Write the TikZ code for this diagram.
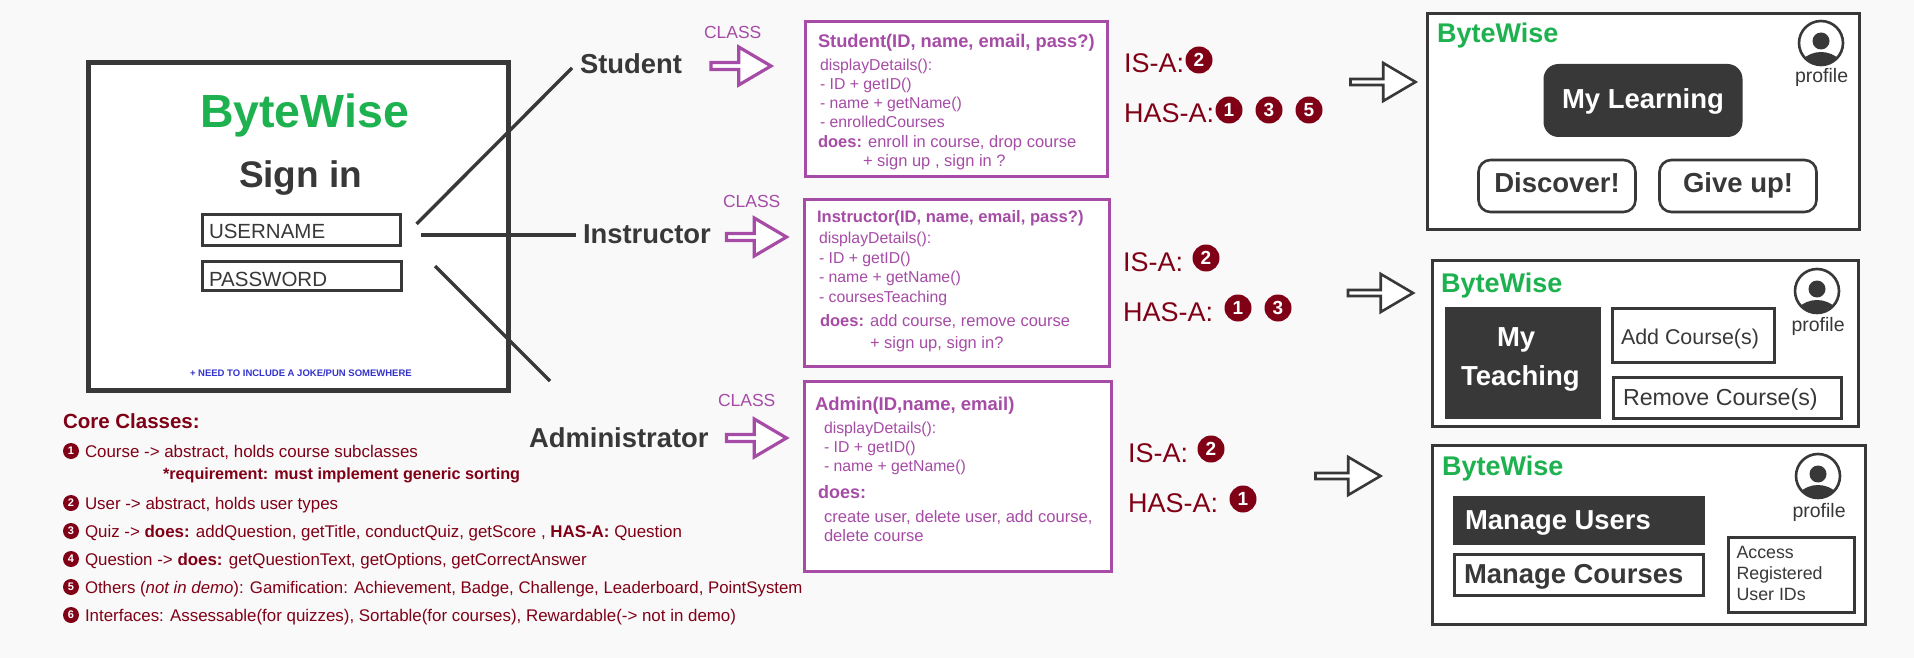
\documentclass[tikz,border=0pt]{standalone}
\usepackage{fontspec}
\setmainfont{Liberation Sans}
\usetikzlibrary{shapes.arrows}

\newcommand{\fs}[1]{\fontsize{#1}{#1}\selectfont}
% profile badge of a screen, at its centre
\newcommand{\profileicon}[2]{
    \begin{scope}[shift={(#1,#2)}]
        \begin{scope}
            \clip (0,0) circle (22);
            \fill[bw_dark] (0,-2) circle (8.5);
            \fill[bw_dark] (0,36) circle (27);
        \end{scope}
        \draw[bw_dark, line width=2.6] (0,0) circle (22);
    \end{scope}
}

\tikzset{
    plain/.style={inner sep=0, outer sep=0, anchor=base west, font=\fs{#1}},
    heavy/.style={plain=#1, font=\fs{#1}\bfseries},
    box/.style={draw=bw_dark, fill=white, line width=#1, inner sep=0, outer sep=0, anchor=north west},
    button/.style={box=2.6, rounded corners=12, minimum width=157, minimum height=52, text height=20, text depth=6, font=\fs{27.5}\bfseries, text=bw_dark},
    classbox/.style={draw=bw_purple, fill=white, line width=3.4, inner sep=0, outer sep=0, anchor=north west},
    darkbox/.style={fill=bw_dark, text=white, inner sep=0, outer sep=0, anchor=north west, font=\fs{27.5}\bfseries},
    wire/.style={draw=bw_dark, line width=3.4},
    blockarrow/.style={single arrow, draw=#1, fill=white, inner sep=0, outer sep=0, anchor=tail,
        minimum width=38, single arrow head extend=7, single arrow tip angle=61},
    classarrow/.style={blockarrow=bw_purple, line width=3.2, minimum height=60},
    screenarrow/.style={blockarrow=bw_dark, line width=2.6, minimum height=65},
    badge/.style={circle, fill=bw_red, text=white, inner sep=0, minimum size=27, font=\fs{19}\bfseries},
    smallbadge/.style={circle, fill=bw_red, text=white, inner sep=0, minimum size=16, font=\fs{11}\bfseries},
}

\begin{document}
\begin{tikzpicture}[x=1pt, y=-1pt]
    \definecolor{bw_bg}{HTML}{F9F9F9}
    \definecolor{bw_dark}{HTML}{383838}
    \definecolor{bw_green}{HTML}{1DB14F}
    \definecolor{bw_purple}{HTML}{A64CA6}
    \definecolor{bw_red}{HTML}{800016}
    \definecolor{bw_blue}{HTML}{3333CC}

    \fill[bw_bg] (0,0) rectangle (1914,658);
    \useasboundingbox (0,0) rectangle (1914,658);

    % sign in page
    \node[box=4.6, minimum width=420, minimum height=328] (signin) at (88.5,62.5) {};
    \node[heavy=46.5, text=bw_green] (signin_logo) at (200,128) {ByteWise};
    \node[heavy=37, text=bw_dark] (signin_title) at (239,187) {Sign in};
    \node[box=3, minimum width=198, minimum height=31] (username) at (202.5,214.5) {};
    \node[box=3, minimum width=199, minimum height=29] (password) at (202.5,261.5) {};
    \node[plain=20.5, text=bw_dark] (username_text) at (209,238) {USERNAME};
    \node[plain=20.5, text=bw_dark] (password_text) at (209,286) {PASSWORD};
    \node[heavy=9.5, text=bw_blue] (signin_note) at (190,376) {+ NEED TO INCLUDE A JOKE/PUN SOMEWHERE};

    % the three users
    \node[heavy=27.4, text=bw_dark] (student) at (580,74) {Student};
    \node[heavy=27.4, text=bw_dark] (instructor) at (583,243) {Instructor};
    \node[heavy=27.4, text=bw_dark] (administrator) at (529,447) {Administrator};
    \coordinate (student_from) at (416.5,224);
    \coordinate (student_to) at (572,68);
    \coordinate (instructor_from) at (421,235);
    \coordinate (instructor_to) at (576,235);
    \coordinate (admin_from) at (435,266);
    \coordinate (admin_to) at (550,381);
    \draw[wire] (student_from) -- (student_to);
    \draw[wire] (instructor_from) -- (instructor_to);
    \draw[wire] (admin_from) -- (admin_to);

    % class arrows
    \node[plain=17.5, text=bw_purple] (class_student) at (704,39) {CLASS};
    \node[plain=17.5, text=bw_purple] (class_instructor) at (723,207) {CLASS};
    \node[plain=17.5, text=bw_purple] (class_admin) at (718,406) {CLASS};
    \node[classarrow] (arrow_student) at (711,66) {};
    \node[classarrow] (arrow_instructor) at (726.5,237) {};
    \node[classarrow] (arrow_admin) at (726.5,438) {};

    % student class
    \node[classbox, minimum width=302, minimum height=155] (student_box) at (805.5,21.5) {};
    \node[heavy=18.3, text=bw_purple] (student_title) at (818,48) {Student(ID, name, email, pass?)};
    \node[plain=15.8, text=bw_purple] (student_l1) at (820,71) {displayDetails():};
    \node[plain=15.8, text=bw_purple] (student_l2) at (820,90) {- ID + getID()};
    \node[plain=15.8, text=bw_purple] (student_l3) at (820,109) {- name + getName()};
    \node[plain=15.8, text=bw_purple] (student_l4) at (820,128) {- enrolledCourses};
    \node[plain=16.5, text=bw_purple] (student_l5) at (818,147) {\textbf{does:} enroll in course, drop course};
    \node[plain=16.5, text=bw_purple] (student_l6) at (863,167) {+ sign up , sign in ?};

    % instructor class
    \node[classbox, minimum width=305, minimum height=167] (instructor_box) at (804.5,199.5) {};
    \node[heavy=16.6, text=bw_purple] (instructor_title) at (817,222) {Instructor(ID, name, email, pass?)};
    \node[plain=15.8, text=bw_purple] (instructor_l1) at (819,243) {displayDetails():};
    \node[plain=15.8, text=bw_purple] (instructor_l2) at (819,263) {- ID + getID()};
    \node[plain=15.8, text=bw_purple] (instructor_l3) at (819,282) {- name + getName()};
    \node[plain=15.8, text=bw_purple] (instructor_l4) at (819,302) {- coursesTeaching};
    \node[plain=16.5, text=bw_purple] (instructor_l5) at (820,326) {\textbf{does:} add course, remove course};
    \node[plain=16.5, text=bw_purple] (instructor_l6) at (870,348) {+ sign up, sign in?};

    % admin class
    \node[classbox, minimum width=307, minimum height=190] (admin_box) at (804.5,381.5) {};
    \node[heavy=18.5, text=bw_purple] (admin_title) at (815,410) {Admin(ID,name, email)};
    \node[plain=15.8, text=bw_purple] (admin_l1) at (824,433) {displayDetails():};
    \node[plain=15.8, text=bw_purple] (admin_l2) at (824,452) {- ID + getID()};
    \node[plain=15.8, text=bw_purple] (admin_l3) at (824,471) {- name + getName()};
    \node[heavy=18, text=bw_purple] (admin_l4) at (818,498) {does:};
    \node[plain=16.6, text=bw_purple] (admin_l5) at (824,522) {create user, delete user, add course,};
    \node[plain=16.6, text=bw_purple] (admin_l6) at (824,541) {delete course};

    % relations
    \node[plain=27, text=bw_red] (student_isa) at (1124,73) {IS-A:};
    \node[plain=27, text=bw_red] (student_hasa) at (1124,123) {HAS-A:};
    \node[badge] (student_is2) at (1199,60) {2};
    \node[badge] (student_has1) at (1229,110) {1};
    \node[badge] (student_has3) at (1269,110) {3};
    \node[badge] (student_has5) at (1309,110) {5};
    \node[plain=27, text=bw_red] (instructor_isa) at (1123,271) {IS-A:};
    \node[plain=27, text=bw_red] (instructor_hasa) at (1123,321) {HAS-A:};
    \node[badge] (instructor_is2) at (1206,258) {2};
    \node[badge] (instructor_has1) at (1238,308) {1};
    \node[badge] (instructor_has3) at (1278,308) {3};
    \node[plain=27, text=bw_red] (admin_isa) at (1128,462) {IS-A:};
    \node[plain=27, text=bw_red] (admin_hasa) at (1128,512) {HAS-A:};
    \node[badge] (admin_is2) at (1211,449) {2};
    \node[badge] (admin_has1) at (1243,499) {1};

    % screen arrows
    \node[screenarrow] (arrow_screen1) at (1350.5,82) {};
    \node[screenarrow] (arrow_screen2) at (1348,293) {};
    \node[screenarrow] (arrow_screen3) at (1315.5,476) {};

    % student screen
    \node[box=3, minimum width=432, minimum height=216] (screen1) at (1427.5,13.5) {};
    \node[heavy=27, text=bw_green] (screen1_logo) at (1437,43) {ByteWise};
    \profileicon{1821}{43}
    \node[plain=19.5, text=bw_dark] (screen1_profile) at (1795,83) {profile};
    \node[darkbox, rounded corners=15, minimum width=199, minimum height=73, text height=20, text depth=4] (learning) at (1543.5,64) {My Learning};
    \node[button] (discover) at (1478.5,160) {Discover!};
    \node[button] (giveup) at (1659.5,160) {Give up!};

    % instructor screen
    \node[box=3, minimum width=426, minimum height=166] (screen2) at (1432.5,260.5) {};
    \node[heavy=27, text=bw_green] (screen2_logo) at (1441,292) {ByteWise};
    \profileicon{1817}{291}
    \node[plain=19.5, text=bw_dark] (screen2_profile) at (1791.5,331) {profile};
    \node[darkbox, minimum width=156, minimum height=112] (teaching) at (1445,307) {};
    \node[heavy=27.5, text=white] (teaching_l1) at (1497,346) {My};
    \node[heavy=27.5, text=white] (teaching_l2) at (1461,385) {Teaching};
    \node[box=3, minimum width=162, minimum height=53.5] (addcourse) at (1612.5,308.5) {};
    \node[plain=21.4, text=bw_dark] (addcourse_text) at (1621,344) {Add Course(s)};
    \node[box=3, minimum width=228, minimum height=41] (removecourse) at (1613.5,377.5) {};
    \node[plain=23.2, text=bw_dark] (removecourse_text) at (1623,405) {Remove Course(s)};

    % admin screen
    \node[box=3, minimum width=432.5, minimum height=179] (screen3) at (1432.5,445.5) {};
    \node[heavy=27, text=bw_green] (screen3_logo) at (1442,475) {ByteWise};
    \profileicon{1818}{476}
    \node[plain=19.5, text=bw_dark] (screen3_profile) at (1792.5,517) {profile};
    \node[darkbox, minimum width=252, minimum height=49] (manageusers) at (1453,496) {};
    \node[heavy=27.4, text=white] (manageusers_text) at (1465,529) {Manage Users};
    \node[box=3, minimum width=249, minimum height=41] (managecourses) at (1454.5,554.5) {};
    \node[heavy=27.4, text=bw_dark] (managecourses_text) at (1464,583) {Manage Courses};
    \node[box=3, minimum width=126, minimum height=75] (access) at (1728.5,537.5) {};
    \node[plain=17.8, text=bw_dark] (access_l1) at (1736.5,558) {Access};
    \node[plain=17.8, text=bw_dark] (access_l2) at (1736.5,579) {Registered};
    \node[plain=17.8, text=bw_dark] (access_l3) at (1736.5,600) {User IDs};

    % list of classes
    \node[heavy=20.5, text=bw_red] (core_title) at (63,428) {Core Classes:};
    \node[smallbadge] (core_b1) at (71,451) {1};
    \node[plain=16.9, text=bw_red] (core_l1) at (85,457) {Course -> abstract, holds course subclasses};
    \node[heavy=16.2, text=bw_red] (core_req) at (163,479) {*requirement: must implement generic sorting};
    \node[smallbadge] (core_b2) at (71,503) {2};
    \node[plain=16.9, text=bw_red] (core_l2) at (85,509) {User -> abstract, holds user types};
    \node[smallbadge] (core_b3) at (71,531) {3};
    \node[plain=16.9, text=bw_red] (core_l3) at (85,537) {Quiz -> \textbf{does:} addQuestion, getTitle, conductQuiz, getScore , \textbf{HAS-A:} Question};
    \node[smallbadge] (core_b4) at (71,559) {4};
    \node[plain=16.9, text=bw_red] (core_l4) at (85,565) {Question -> \textbf{does:} getQuestionText, getOptions, getCorrectAnswer};
    \node[smallbadge] (core_b5) at (71,587) {5};
    \node[plain=16.8, text=bw_red] (core_l5) at (85,593) {Others (\textit{not in demo}): Gamification: Achievement, Badge, Challenge, Leaderboard, PointSystem};
    \node[smallbadge] (core_b6) at (71,615) {6};
    \node[plain=16.9, text=bw_red] (core_l6) at (85,621) {Interfaces: Assessable(for quizzes), Sortable(for courses), Rewardable(-> not in demo)};
\end{tikzpicture}
\end{document}
